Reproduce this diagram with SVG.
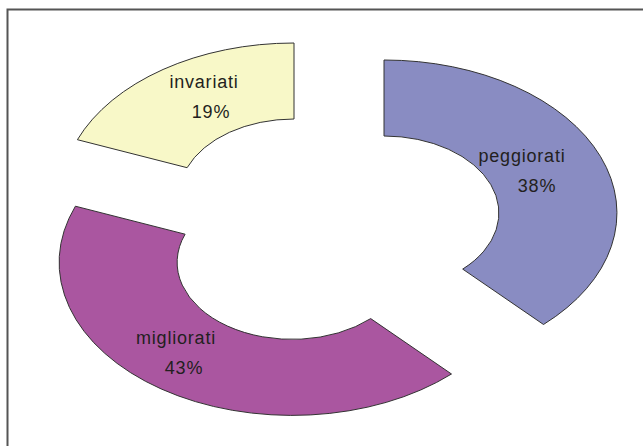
<svg xmlns="http://www.w3.org/2000/svg" width="643" height="446" viewBox="0 0 643 446">
<style>
.slice{stroke:#333;stroke-width:1;stroke-linejoin:miter}
.lbl{font-family:"Liberation Sans",Arial,sans-serif;font-size:18px;fill:#231F20;text-anchor:middle;letter-spacing:0.8px}
.frame{stroke:#555;stroke-width:2;fill:none}
</style>
<rect width="643" height="446" fill="#fff"/>
<path class="frame" d="M7.5,446 L7.5,9.5 L643,9.5"/>
<g id="peggiorati">
<path class="slice" fill="#898CC2" d="M384,60 A233,153 0 0 1 543.5,324.5 L462.7,269.1 A115,77 0 0 0 384,136 Z"/>
<text class="lbl" x="522" y="162">peggiorati</text>
<text class="lbl" x="537" y="192">38%</text>
</g>
<g id="migliorati">
<path class="slice" fill="#AA56A0" d="M451.5,374 A233,153 0 0 1 75.4,206.2 L185.1,234.2 A115,77 0 0 0 370.7,318.6 Z"/>
<text class="lbl" x="176" y="344">migliorati</text>
<text class="lbl" x="184" y="374">43%</text>
</g>
<g id="invariati">
<path class="slice" fill="#F8F8C8" d="M77.4,139.7 A233,153 0 0 1 294,43 L294,119 A115,77 0 0 0 187.1,167.7 Z"/>
<text class="lbl" x="204" y="88">invariati</text>
<text class="lbl" x="211" y="118">19%</text>
</g>
<g id="connectors"/>
</svg>
